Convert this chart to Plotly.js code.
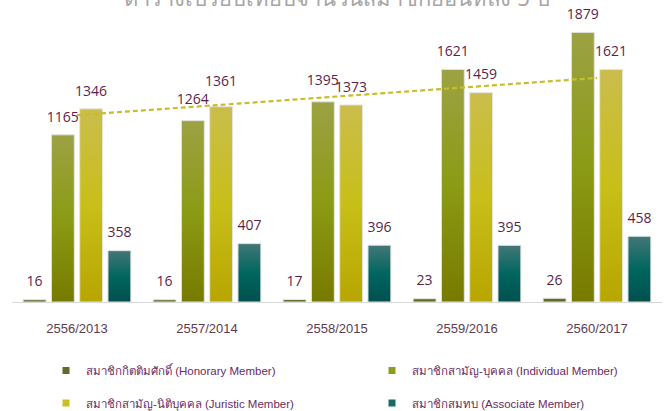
<!DOCTYPE html>
<html>
<head>
<meta charset="utf-8">
<script src="https://cdn.plot.ly/plotly-3.0.1.min.js"></script>
<style>html,body{margin:0;padding:0;background:#fff}#chart{width:669px;height:411px}</style>
</head>
<body>
<div id="chart"></div>
<script>
const categories = ['2556/2013', '2557/2014', '2558/2015', '2559/2016', '2560/2017'];
const honorary = [16, 16, 17, 23, 26];
const individual = [1165, 1264, 1395, 1621, 1879];
const juristic = [1346, 1361, 1373, 1459, 1621];
const associate = [358, 407, 396, 395, 458];
const seriesNames = [
  'สมาชิกกิตติมศักดิ์ (Honorary Member)',
  'สมาชิกสามัญ-บุคคล (Individual Member)',
  'สมาชิกสามัญ-นิติบุคคล (Juristic Member)',
  'สมาชิกสมทบ (Associate Member)'
];
const titleText = 'ตารางเปรียบเทียบจำนวนสมาชิกย้อนหลัง 5 ปี';

const seriesValues = [honorary, individual, juristic, associate];
const solidColors = ['#5d6d29', '#8c9a1c', '#c6bc1e', '#0b625e'];
const legendColors = ['#5d6d29', '#8f9c1e', '#c9c021', '#1a6a68'];
const gradStops = [
  [['0%', '#667630'], ['100%', '#55651f']],
  [['0%', '#9ca244'], ['50%', '#8b9b14'], ['100%', '#777a00']],
  [['0%', '#cabd4c'], ['50%', '#c8bf19'], ['100%', '#b8a500']],
  [['0%', '#437777'], ['50%', '#00665f'], ['100%', '#00504e']]
];
// label lift (invisible marker size) per point, as labels were nudged in the original
const labelLift = [
  [14, 14, 14, 14, 14],
  [14, 20, 20, 14, 14],
  [14, 26, 14, 14, 14],
  [14, 14, 14, 14, 14]
];

// linear trendline (least squares) of juristic series
const n = juristic.length;
const xs = juristic.map((_, i) => i + 1);
const mx = xs.reduce((a, b) => a + b, 0) / n;
const my = juristic.reduce((a, b) => a + b, 0) / n;
let sxy = 0, sxx = 0;
for (let i = 0; i < n; i++) { sxy += (xs[i] - mx) * (juristic[i] - my); sxx += (xs[i] - mx) ** 2; }
const slope = sxy / sxx, intercept = my - slope * mx;
const trend = xs.map(x => intercept + slope * x);

const traces = [];
seriesValues.forEach((vals, i) => {
  traces.push({
    type: 'bar', x: categories, y: vals, name: seriesNames[i],
    marker: {color: solidColors[i], line: {color: '#e4e4e4', width: 1}},
    showlegend: false, hoverinfo: 'skip'
  });
});
seriesValues.forEach((vals, i) => {
  traces.push({
    type: 'scatter', mode: 'markers+text', x: categories, y: vals,
    text: vals.map(String), textposition: 'top center',
    textfont: {family: 'Open Sans, Roboto, sans-serif', size: 14, color: '#5a1f4e'},
    marker: {size: labelLift[i], color: 'rgba(0,0,0,0)', opacity: 0, line: {width: 0, color: 'rgba(0,0,0,0)'}},
    cliponaxis: false, showlegend: false, hoverinfo: 'skip'
  });
});
traces.push({
  type: 'scatter', mode: 'lines', x: categories, y: trend, xaxis: 'x2',
  line: {color: '#c8bd2a', width: 2.2, dash: '5px,3px'},
  showlegend: false, hoverinfo: 'skip'
});
const legendIds = ['legend', 'legend2', 'legend3', 'legend4'];
seriesNames.forEach((nm, i) => {
  traces.push({
    type: 'scatter', mode: 'markers', x: [null], y: [null], xaxis: 'x2',
    name: nm, marker: {symbol: 'square', size: 7, color: legendColors[i]},
    legend: legendIds[i], hoverinfo: 'skip'
  });
});

const legendFont = {family: 'Liberation Sans Narrow, Liberation Sans, sans-serif', size: 11.5, color: '#6b2a62'};
function mkLegend(xpx, ypx) {
  return {
    orientation: 'h', xref: 'container', yref: 'container',
    x: xpx / 669, xanchor: 'left', y: 1 - ypx / 411, yanchor: 'middle',
    font: legendFont, itemwidth: 30, bgcolor: 'rgba(0,0,0,0)'
  };
}
const layout = {
  width: 669, height: 411,
  margin: {l: 12, r: 7, t: 15, b: 109},
  paper_bgcolor: '#ffffff', plot_bgcolor: '#ffffff',
  title: {
    text: titleText, x: 0.5, xanchor: 'center', xref: 'paper',
    y: 0.985, yanchor: 'bottom', yref: 'container',
    font: {family: 'Noto Sans, DejaVu Sans, sans-serif', size: 22, color: '#a6a6a6'}
  },
  barmode: 'group', bargap: 0.13, bargroupgap: 0.19,
  scattermode: 'group', scattergap: 0.13,
  xaxis: {
    type: 'category', range: [-0.5, 4.5], showgrid: false, zeroline: false,
    showline: true, linecolor: '#d9d9d9', linewidth: 1, ticks: '',
    ticklabelstandoff: 14, automargin: false,
    tickfont: {family: 'Liberation Sans, Arial, sans-serif', size: 13, color: '#5a3c56'}
  },
  xaxis2: {type: 'category', overlaying: 'x', range: [-0.5, 4.5], visible: false},
  yaxis: {range: [0, 2000], visible: false, showgrid: false, zeroline: false, fixedrange: true},
  legend: mkLegend(46, 370.5),
  legend2: mkLegend(372, 370.5),
  legend3: mkLegend(46, 403),
  legend4: mkLegend(372, 403),
  showlegend: true
};

Plotly.newPlot('chart', traces, layout, {displayModeBar: false, staticPlot: true}).then(gd => {
  const svg = gd.querySelector('svg.main-svg');
  const NS = 'http://www.w3.org/2000/svg';
  let defs = svg.querySelector('defs');
  if (!defs) { defs = document.createElementNS(NS, 'defs'); svg.insertBefore(defs, svg.firstChild); }
  gradStops.forEach((stops, i) => {
    const g = document.createElementNS(NS, 'linearGradient');
    g.setAttribute('id', 'bargrad' + i);
    g.setAttribute('x1', '0'); g.setAttribute('y1', '0');
    g.setAttribute('x2', '0'); g.setAttribute('y2', '1');
    stops.forEach(s => {
      const st = document.createElementNS(NS, 'stop');
      st.setAttribute('offset', s[0]);
      st.setAttribute('stop-color', s[1]);
      g.appendChild(st);
    });
    defs.appendChild(g);
  });
  gd.querySelectorAll('.barlayer .trace').forEach((tr, i) => {
    tr.querySelectorAll('path').forEach(p => { p.style.fill = 'url(#bargrad' + i + ')'; });
  });
});
</script>
</body>
</html>
